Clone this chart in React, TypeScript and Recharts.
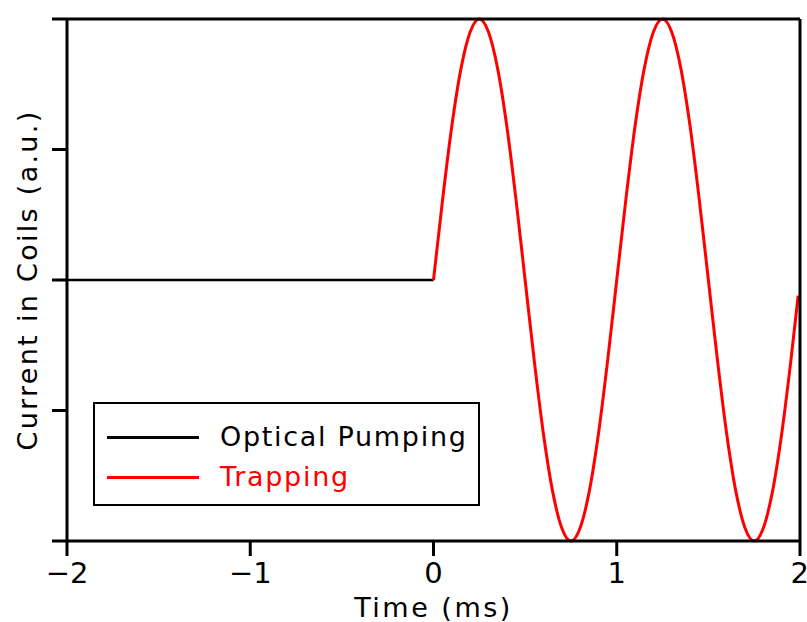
import { LineChart, Line, XAxis, YAxis } from 'recharts';

// Optical pumping stage: coils held at zero before t = 0
const pumpTime = [-2, 0];
const pumpCurrent = [0, 0];

// Trapping stage: oscillating coil current
const trapTime = [
  0, 0.05, 0.1, 0.15, 0.2, 0.25, 0.3, 0.35, 0.4, 0.45,
  0.5, 0.55, 0.6, 0.65, 0.7, 0.75, 0.8, 0.85, 0.9, 0.95,
  1, 1.05, 1.1, 1.15, 1.2, 1.25, 1.3, 1.35, 1.4, 1.45,
  1.5, 1.55, 1.6, 1.65, 1.7, 1.75, 1.8, 1.85, 1.9, 1.95, 1.99,
];
const trapCurrent = [
  0, 0.31, 0.59, 0.81, 0.95, 1, 0.95, 0.81, 0.59, 0.31,
  0, -0.31, -0.59, -0.81, -0.95, -1, -0.95, -0.81, -0.59, -0.31,
  0, 0.31, 0.59, 0.81, 0.95, 1, 0.95, 0.81, 0.59, 0.31,
  0, -0.31, -0.59, -0.81, -0.95, -1, -0.95, -0.81, -0.59, -0.31, -0.06,
];

const xTicks = [-2, -1, 0, 1, 2];
const yTicks = [-1, -0.5, 0, 0.5, 1];

const series = [
  { name: 'Optical Pumping', color: '#000' },
  { name: 'Trapping', color: '#ff0000' },
];

const pumpData = pumpTime.map((t, i) => ({ t, v: pumpCurrent[i] }));
const trapData = trapTime.map((t, i) => ({ t, v: trapCurrent[i] }));

const FONT = '"DejaVu Sans", sans-serif';
const AX = { stroke: '#000', strokeWidth: 3 };
const blank = () => '';
const fmt = (v: number) => (v < 0 ? `\u2212${Math.abs(v)}` : `${v}`);

const YLabel = ({ viewBox }: any) => {
  const cx = 27;
  const cy = viewBox.y + viewBox.height / 2;
  return (
    <text
      x={cx}
      y={cy}
      transform={`rotate(-90 ${cx} ${cy})`}
      textAnchor="middle"
      dominantBaseline="central"
      fontFamily={FONT}
      fontSize={27}
      letterSpacing={2.3}
      fill="#000"
    >
      Current in Coils (a.u.)
    </text>
  );
};

const LegendBox = () => (
  <div
    style={{
      position: 'absolute',
      left: 93,
      top: 402,
      width: 383,
      height: 100,
      border: '2.5px solid #000',
      background: '#fff',
      fontFamily: FONT,
      fontSize: 27,
      letterSpacing: 1.7,
    }}
  >
    {series.map((s, i) => (
      <div key={s.name}>
        <div
          style={{
            position: 'absolute', left: 12, top: 32 + i * 40, width: 92, height: 2.5, background: s.color,
          }}
        />
        <div
          style={{
            position: 'absolute', left: 125, top: 16 + i * 40, color: s.color, lineHeight: '34px', whiteSpace: 'nowrap',
          }}
        >
          {s.name}
        </div>
      </div>
    ))}
  </div>
);

export default function App() {
  return (
    <div style={{ position: 'absolute', left: 0, top: 0, width: 807, height: 622, background: '#fff' }}>
      <LineChart width={807} height={622} margin={{ top: 0, right: 0, bottom: 0, left: 0 }}>
        <XAxis
          xAxisId="b"
          dataKey="t"
          type="number"
          domain={[-2, 2]}
          ticks={xTicks}
          allowDataOverflow
          height={81}
          axisLine={AX}
          tickLine={AX}
          tickSize={15}
          tickMargin={6}
          tickFormatter={fmt}
          tick={{ fill: '#000', fontSize: 29, fontFamily: FONT }}
          label={{
            value: 'Time (ms)', position: 'insideBottom', offset: 5,
            fill: '#000', fontSize: 27, fontFamily: FONT, letterSpacing: 2.5,
          } as any}
        />
        <XAxis
          xAxisId="t"
          orientation="top"
          type="number"
          domain={[-2, 2]}
          ticks={xTicks}
          height={19}
          axisLine={AX}
          tickLine={AX}
          tickSize={13}
          tickFormatter={blank}
        />
        <YAxis
          yAxisId="l"
          type="number"
          domain={[-1, 1]}
          ticks={yTicks}
          width={67}
          axisLine={AX}
          tickLine={AX}
          tickSize={15}
          tickFormatter={blank}
          label={<YLabel />}
        />
        <YAxis
          yAxisId="r"
          orientation="right"
          type="number"
          domain={[-1, 1]}
          ticks={yTicks}
          width={7}
          axisLine={AX}
          tickLine={AX}
          tickSize={8}
          tickFormatter={blank}
        />
        <Line
          xAxisId="b"
          yAxisId="l"
          data={pumpData}
          dataKey="v"
          name={series[0].name}
          type="linear"
          stroke={series[0].color}
          strokeWidth={2.5}
          dot={false}
          isAnimationActive={false}
        />
        <Line
          xAxisId="b"
          yAxisId="l"
          data={trapData}
          dataKey="v"
          name={series[1].name}
          type="monotone"
          stroke={series[1].color}
          strokeWidth={3}
          dot={false}
          isAnimationActive={false}
        />
      </LineChart>
      <LegendBox />
    </div>
  );
}
